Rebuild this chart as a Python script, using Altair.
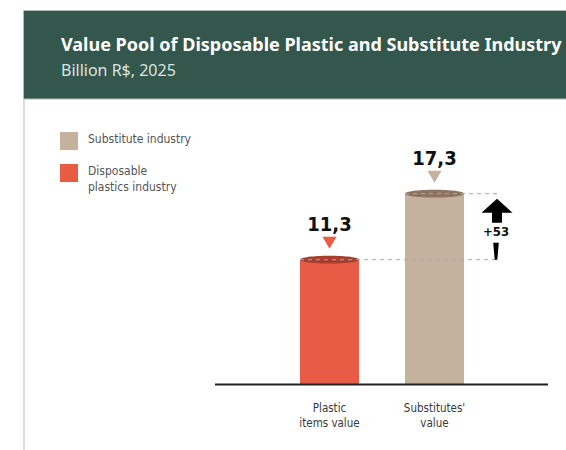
import altair as alt
import pandas as pd

# ---- data ----
categories = ["Plastic items value", "Substitutes' value"]
axis_labels = ["Plastic\nitems value", "Substitutes'\nvalue"]
values = [11.3, 17.3]
value_labels = ["11,3", "17,3"]
bar_colors = ["#e85c45", "#c4b19e"]
top_colors = ["#a83e2e", "#8f735e"]
legend_labels = ["Substitute industry", "Disposable\nplastics industry"]
legend_colors = ["#c4b19e", "#e85c45"]
delta_label = "+53"
title_text = "Value Pool of Disposable Plastic and Substitute Industry"
subtitle_text = "Billion R$, 2025"

GREEN = "#33574d"
NARROW = "DejaVu Sans Condensed, Roboto, sans-serif"

df = pd.DataFrame({
    "cat": categories,
    "value": values,
    "label": value_labels,
    "axis_label": axis_labels,
    "bar_color": bar_colors,
    "top_color": top_colors,
})
delta_df = pd.DataFrame({"lo": [min(values)], "hi": [max(values)], "label": [delta_label]})
one = pd.DataFrame({"a": [0]})

xscale = alt.Scale(domain=categories, range=[216, 548], paddingInner=0.438, paddingOuter=0.8)
yscale = alt.Scale(domain=[0, 20], range=[384, 164])

X = alt.X("cat:N", scale=xscale, axis=None, sort=categories)
Y = alt.Y("value:Q", scale=yscale, axis=None)

base = alt.Chart(df)

# header
header = alt.Chart(one).mark_rect(fill=GREEN, stroke="#b8b8b8", strokeWidth=1).encode(
    x=alt.value(23.5), x2=alt.value(570), y=alt.value(10.5), y2=alt.value(99))
left_line = alt.Chart(one).mark_rule(stroke="#dcdcdc", strokeWidth=2).encode(
    x=alt.value(24), y=alt.value(99.5), y2=alt.value(450))
title = alt.Chart(one).mark_text(text=title_text, font="Noto Sans", fontWeight="bold", fontSize=18,
                                 color="white", align="left", baseline="middle").encode(
    x=alt.value(61), y=alt.value(46))
subtitle = alt.Chart(one).mark_text(text=subtitle_text, font="Noto Sans", fontSize=16,
                                    color="#dde3e0", align="left", baseline="middle").encode(
    x=alt.value(61), y=alt.value(71))

# legend
legend_layers = []
legend_y = [132, 164]
for i, (lab, col) in enumerate(zip(legend_labels, legend_colors)):
    legend_layers.append(alt.Chart(one).mark_rect(fill=col).encode(
        x=alt.value(60), x2=alt.value(78), y=alt.value(legend_y[i]), y2=alt.value(legend_y[i] + 18)))
    legend_layers.append(alt.Chart(one).mark_text(text=lab, font=NARROW, fontSize=12, color="#555555",
                                                  align="left", baseline="top", lineBreak="\n",
                                                  lineHeight=16).encode(
        x=alt.value(88), y=alt.value(legend_y[i] + 2)))

# baseline
baseline = alt.Chart(one).mark_rule(stroke="#222222", strokeWidth=2).encode(
    x=alt.value(215), x2=alt.value(548), y=alt.value(384.5))

bars = base.mark_bar().encode(x=X, y=Y, fill=alt.Fill("bar_color:N", scale=None))

ellipse = "M -1 0 A 1 0.13 0 1 0 1 0 A 1 0.13 0 1 0 -1 0 Z"
tops = base.mark_point(shape=ellipse, filled=True, opacity=1, size=59 * 59, strokeWidth=0).encode(
    x=X, y=Y, fill=alt.Fill("top_color:N", scale=None))

dashes = base.mark_rule(stroke="#a9a9a9", strokeWidth=1, strokeDash=[4, 4]).encode(
    x=alt.X("cat:N", scale=xscale, axis=None, sort=categories, bandPosition=0),
    x2=alt.value(500), y=Y)

tri = "M -0.7 -2.3 L 0.7 -2.3 L 0 -1.1 Z"
triangles = base.mark_point(shape=tri, filled=True, opacity=1, size=400, strokeWidth=0).encode(
    x=X, y=Y, fill=alt.Fill("bar_color:N", scale=None))

labels = base.mark_text(font=NARROW, fontWeight="bold", fontSize=20, color="#111111",
                        baseline="middle", dy=-35).encode(x=X, y=Y, text="label:N")

axis_text = base.mark_text(font=NARROW, fontSize=11.5, color="#3a3a3a", baseline="top",
                           lineBreak="\n", lineHeight=15).encode(
    x=X, y=alt.value(403), text="axis_label:N")

# delta arrow
head_path = "M 0 0.5 L 1.55 1.9 L 0.5 1.9 L 0.5 2.9 L -0.5 2.9 L -0.5 1.9 L -1.55 1.9 Z"
tail_path = "M -0.28 -1.7 L 0.28 -1.7 L 0.13 0 L -0.13 0 Z"
dbase = alt.Chart(delta_df)
head = dbase.mark_point(shape=head_path, filled=True, opacity=1, size=400, strokeWidth=0, fill="black").encode(
    x=alt.value(497), y=alt.Y("hi:Q", scale=yscale, axis=None))
tail = dbase.mark_point(shape=tail_path, filled=True, opacity=1, size=400, strokeWidth=0, fill="black").encode(
    x=alt.value(496), y=alt.Y("lo:Q", scale=yscale, axis=None))
dtext = dbase.transform_calculate(mid="(datum.lo + datum.hi) / 2").mark_text(
    font=NARROW, fontWeight="bold", fontSize=13, color="#111111", baseline="middle", dy=5.5).encode(
    x=alt.value(496), y=alt.Y("mid:Q", scale=yscale, axis=None), text="label:N")

chart = alt.layer(
    header, left_line, title, subtitle, *legend_layers,
    bars, tops, dashes, triangles, labels, baseline, axis_text, head, tail, dtext
).properties(
    width=566, height=450, autosize=alt.AutoSizeParams(type="none"), padding=0, background="white"
).configure_view(stroke=None)

chart.save("out.html", embed_options={"renderer": "svg", "actions": False})
